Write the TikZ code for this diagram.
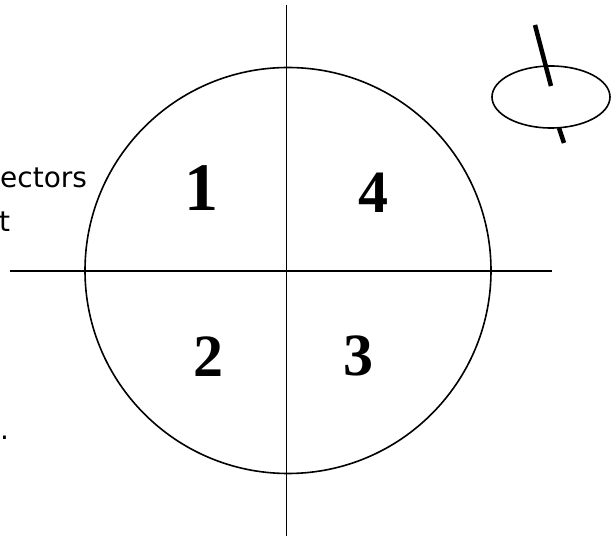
\documentclass[tikz,border=0pt]{standalone}
\usepackage{fontspec}
\setmainfont{Liberation Serif}
\newfontfamily\notefont{DejaVu Sans}

\begin{document}
\begin{tikzpicture}[x=1pt, y=-1pt,
    quadlabel/.style={anchor=center, font=\bfseries\fontsize{60}{60}\selectfont},
    notetext/.style={anchor=base west, inner sep=0pt, font=\notefont\fontsize{28}{28}\selectfont}]

  \useasboundingbox (0,0) rectangle (611,537);

  % target circle and the two axes
  \draw[line width=1.6pt] (288,270.5) circle (203);
  \draw[line width=1.6pt] (286.5,5) -- (286.5,536);
  \draw[line width=1.6pt] (10,271) -- (552,271);

  % quadrant numbers
  \node[quadlabel, font=\bfseries\fontsize{68}{68}\selectfont] (q1) at (201,188) {1};
  \node[quadlabel] (q4) at (373,193) {4};
  \node[quadlabel] (q2) at (208,357) {2};
  \node[quadlabel] (q3) at (358,356) {3};

  % cut off text on the left
  \node[notetext] (txta) at (0,188) {ectors};
  \node[notetext] (txtb) at (-1,232) {t};
  \node[notetext] (txtc) at (0,440) {.};

  % small disc with its axis
  \draw[line width=1.6pt] (551,97) ellipse (59 and 31);
  \draw[line width=4.5pt] (535,25) -- (551,86);
  \draw[line width=4.5pt] (559,128) -- (564,143);

\end{tikzpicture}
\end{document}
